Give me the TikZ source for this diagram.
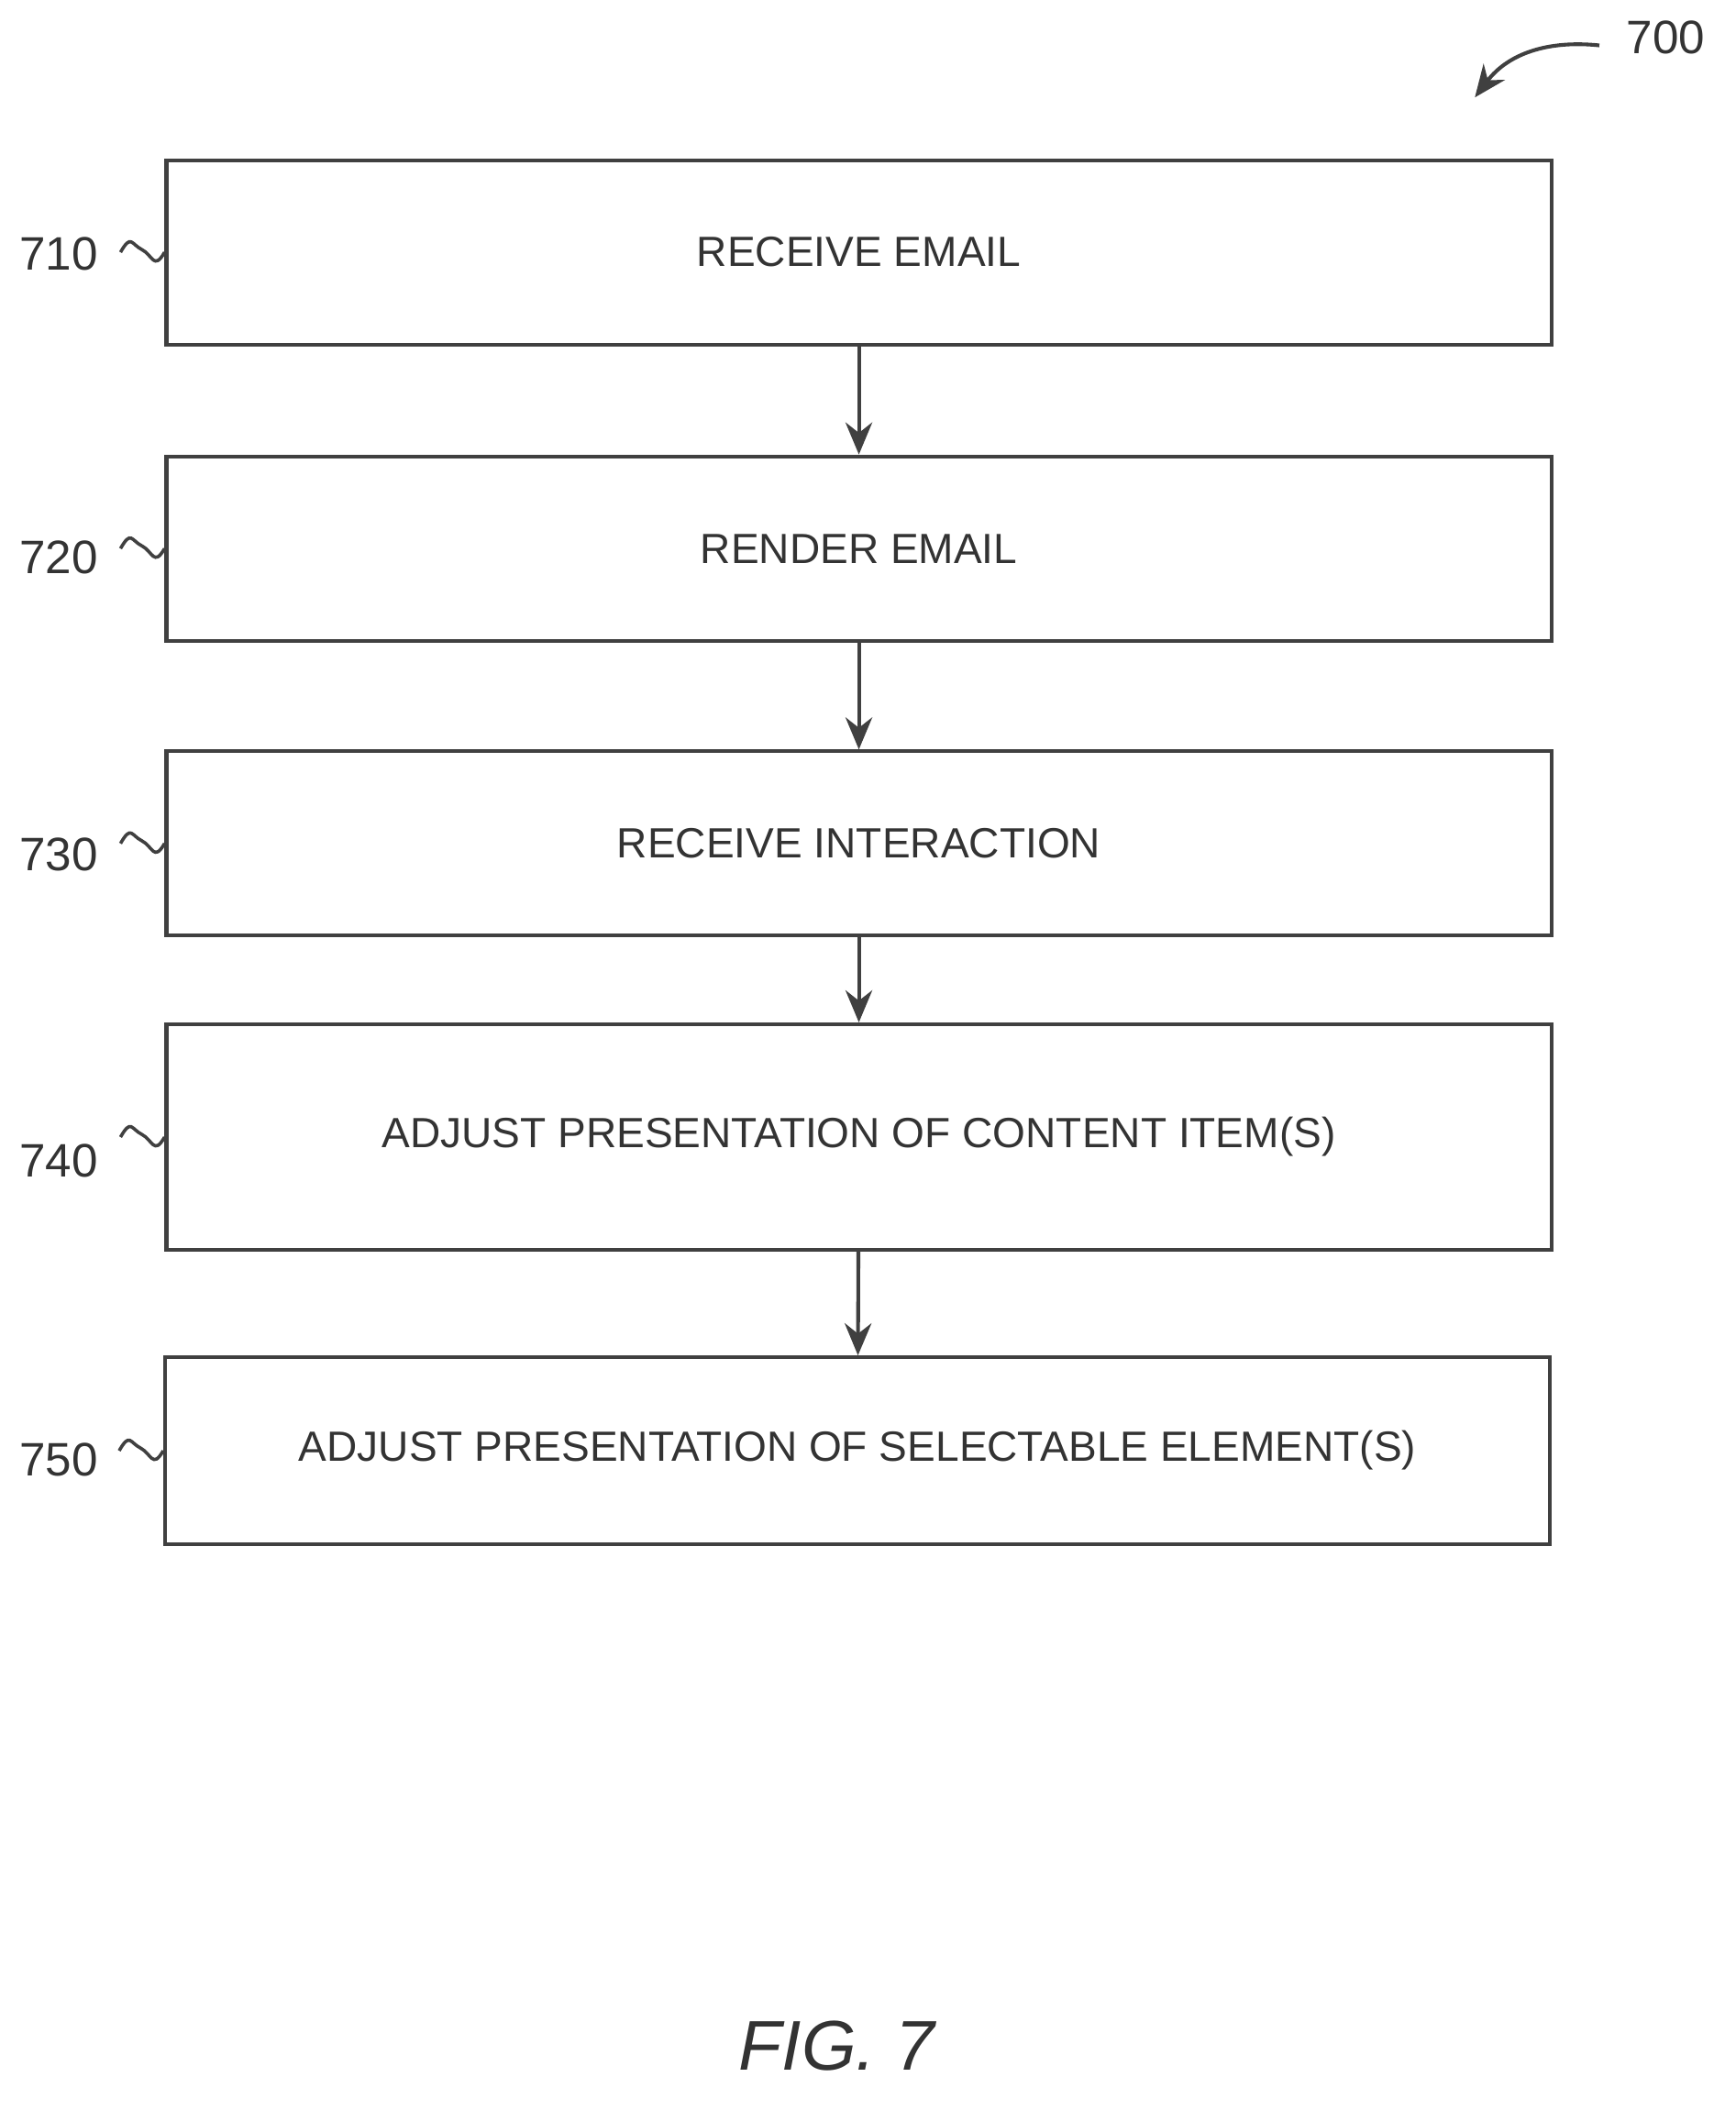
\documentclass[tikz,border=0pt]{standalone}
\usepackage{fontspec}
\setmainfont{Liberation Sans}
\usetikzlibrary{arrows.meta,positioning}
\tikzset{
  stepbox/.style={draw=black!75,line width=0.8pt,minimum width=10.37cm,inner sep=0pt,font=\fontsize{9}{11}\selectfont,text=black!80},
  arrow/.style={draw=black!75,line width=0.8pt,-{Stealth[length=2.4mm,width=2mm]}},
  ref/.style={font=\fontsize{10}{12}\selectfont,text=black!80},
  squig/.style={draw=black!75,line width=0.7pt}
}
\begin{document}
\begin{tikzpicture}[x=0.01cm,y=-0.01cm]
	\useasboundingbox (0,0) rectangle (1300,1581);
	% steps
	\node (s710) at (643.5,189) [stepbox,minimum height=1.38cm] {RECEIVE EMAIL};
	\node (s720) at (643.5,411) [stepbox,minimum height=1.38cm] {RENDER EMAIL};
	\node (s730) at (643.5,632) [stepbox,minimum height=1.38cm] {RECEIVE INTERACTION};
	\node (s740) at (643.5,852) [stepbox,minimum height=1.69cm] {ADJUST PRESENTATION OF CONTENT ITEM(S)};
	\node (s750) at (642.5,1087) [stepbox,minimum height=1.40cm] {ADJUST PRESENTATION OF SELECTABLE ELEMENT(S)};
	\draw [arrow] (s710) -- (s720);
	\draw [arrow] (s720) -- (s730);
	\draw [arrow] (s730) -- (s740);
	\draw [arrow] (s740) -- (s750);
	% reference numerals
	\foreach \s/\t/\y in {s710/710/190, s720/720/418, s730/730/640, s740/740/870, s750/750/1094} {
		\node (l\t) at (44,\y) [ref] {\t};
		\draw [squig] (\s.west) ++(-33,0) .. controls +(8,-14) and +(-8,-4) .. ++(16,-2) .. controls +(8,4) and +(-8,14) .. ++(17,2);
	}
	\node (l700) at (1248,28) [ref] {700};
	\coordinate (a700) at (1105,73);
	\draw [arrow] (l700.west) ++(-8,6) .. controls (1160,30) and (1130,40) .. (a700);
	\node (fig) at (627,1533) [font=\fontsize{15}{18}\selectfont\itshape,text=black!80] {FIG. 7};
\end{tikzpicture}
\end{document}
